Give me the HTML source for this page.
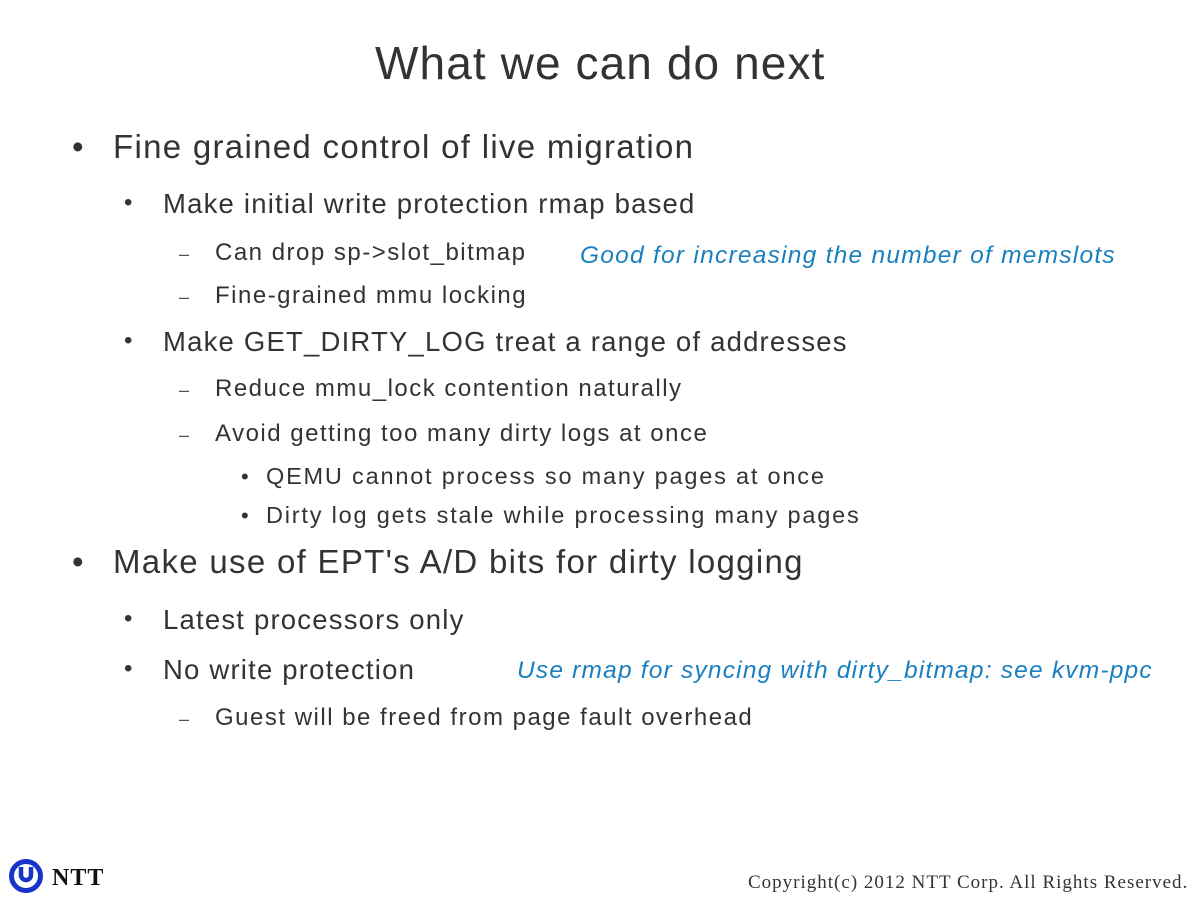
<!DOCTYPE html>
<html><head><meta charset="utf-8"><style>
body{margin:0;width:1200px;height:900px;background:#fff;position:relative;overflow:hidden;font-family:"Liberation Sans",sans-serif;color:#333}
.t{position:absolute;white-space:nowrap;line-height:1}
.b{color:#1a7fc0;font-style:italic;letter-spacing:1.25px}
.l1{font-size:33px;letter-spacing:1.3px}
.l2{font-size:27.5px;letter-spacing:1.2px}
.l3{font-size:24px;letter-spacing:1.5px}
.l4{font-size:23.5px;letter-spacing:1.8px}
.d{font-size:18px;color:#555}
</style></head><body>
<div class="t" style="left:375px;top:40px;font-size:46px;letter-spacing:1.1px">What we can do next</div>

<div class="t" style="left:72px;top:130px;font-size:33px">•</div>
<div class="t l1" style="left:113px;top:130px">Fine grained control of live migration</div>

<div class="t" style="left:124px;top:191px;font-size:24px">•</div>
<div class="t l2" style="left:163px;top:190px">Make initial write protection rmap based</div>

<div class="t d" style="left:179px;top:245px">–</div>
<div class="t l3" style="left:215px;top:241px">Can drop sp-&gt;slot_bitmap</div>
<div class="t b" style="left:580px;top:244px;font-size:24.5px">Good for increasing the number of memslots</div>
<div class="t d" style="left:179px;top:288px">–</div>
<div class="t l3" style="left:215px;top:284px">Fine-grained mmu locking</div>

<div class="t" style="left:124px;top:329px;font-size:24px">•</div>
<div class="t l2" style="left:163px;top:328px">Make GET_DIRTY_LOG treat a range of addresses</div>

<div class="t d" style="left:179px;top:381px">–</div>
<div class="t l3" style="left:215px;top:377px">Reduce mmu_lock contention naturally</div>
<div class="t d" style="left:179px;top:426px">–</div>
<div class="t l3" style="left:215px;top:422px">Avoid getting too many dirty logs at once</div>

<div class="t" style="left:241px;top:466px;font-size:22px">•</div>
<div class="t l4" style="left:266px;top:465px">QEMU cannot process so many pages at once</div>
<div class="t" style="left:241px;top:505px;font-size:22px">•</div>
<div class="t l4" style="left:266px;top:504px">Dirty log gets stale while processing many pages</div>

<div class="t" style="left:72px;top:545px;font-size:33px">•</div>
<div class="t l1" style="left:113px;top:545px">Make use of EPT's A/D bits for dirty logging</div>

<div class="t" style="left:124px;top:607px;font-size:24px">•</div>
<div class="t l2" style="left:163px;top:606px">Latest processors only</div>
<div class="t" style="left:124px;top:657px;font-size:24px">•</div>
<div class="t l2" style="left:163px;top:656px">No write protection</div>
<div class="t b" style="left:517px;top:659px;font-size:24.5px;letter-spacing:1.2px">Use rmap for syncing with dirty_bitmap: see kvm-ppc</div>
<div class="t d" style="left:179px;top:710px">–</div>
<div class="t l3" style="left:215px;top:706px">Guest will be freed from page fault overhead</div>

<svg style="position:absolute;left:8px;top:858px" width="36" height="36" viewBox="0 0 36 36">
<circle cx="18" cy="18" r="14.5" fill="none" stroke="#1634c8" stroke-width="5"/>
<path d="M13 9 v8 a5 5 0 0 0 10 0 v-8" fill="none" stroke="#1634c8" stroke-width="4.5"/>
</svg>
<div class="t" style="left:52px;top:866px;font-size:24px;font-weight:bold;font-family:'Liberation Serif',serif;color:#111;letter-spacing:1px">NTT</div>
<div class="t" style="left:748px;top:873px;font-size:19px;font-family:'Liberation Serif',serif;color:#333;letter-spacing:1px">Copyright(c) 2012 NTT Corp. All Rights Reserved.</div>
</body></html>
